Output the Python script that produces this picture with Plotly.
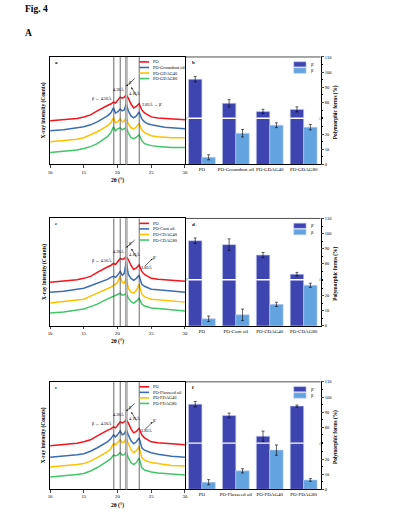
import plotly.graph_objects as go

W, H = 394, 527
FONT = "Liberation Serif"

# ---------------- data ----------------
TWO_THETA = [10, 12, 14, 15, 16, 17, 18, 18.5, 19, 19.4, 19.7, 20.0, 20.4, 20.7, 21.0,
             21.3, 21.6, 22.0, 22.4, 22.8, 23.2, 23.6, 24.0, 24.5, 25, 26, 27, 28, 30]

PO = [44, 45, 46.5, 48, 50, 54, 58, 59.5, 61, 63, 62, 65, 68, 67, 68,
      70, 67, 61, 57, 58.5, 61.5, 55, 52, 50, 48, 47, 46.5, 46, 45]

GROUNDNUT = [34, 35, 37, 38, 40, 43, 47, 49, 52, 57, 52, 53, 56, 54, 55,
             61, 54, 49, 47, 49, 53, 46, 43, 41, 40, 38.5, 37.5, 37, 36]
GDAG40 = [23, 24, 25.5, 27, 30, 33, 37, 39, 42, 47, 42, 43, 46, 43, 44,
          47, 41, 37, 36, 38, 41, 35, 32, 30.5, 29, 28, 27.5, 27, 27]
GDAG80 = [12, 13, 14.5, 16, 18, 21, 26, 28, 32, 38, 34, 36, 37, 35, 36,
          37, 32, 27, 26, 27.5, 30, 24, 21, 20, 19, 18, 17.5, 17, 17]

CORN = [34, 35, 37, 38, 40.5, 43, 46, 47, 49, 50, 49, 51, 55, 51, 53,
        65, 52, 48, 46, 48, 51, 42, 40, 38.5, 37, 36.5, 36, 35, 34]
CDAG40 = [23, 24.5, 26, 27, 30, 33, 36, 37, 39, 41, 42, 44, 50, 44, 43,
          48, 38, 34, 33, 36, 42, 32, 29.5, 28, 27, 26.5, 26, 25, 24]
CDAG80 = [13, 14, 16, 17, 19.5, 22, 25.5, 27, 29, 30, 30.5, 31.5, 33, 31, 31.5,
          33, 28, 24.5, 23, 25, 28, 22, 20, 19, 18, 17.5, 17, 16, 15]

FLAXSEED = [32.5, 33.5, 35, 36, 38.5, 42, 46, 48, 51, 55, 53, 55, 59, 55, 56,
            60, 55, 49, 46, 48, 52, 42, 39.5, 38, 37, 35.5, 34.5, 33.5, 32.5]
FDAG40 = [22.5, 23.5, 25, 26, 28.5, 32, 36, 38, 41, 46, 45, 47, 50, 47, 48,
          51, 46, 40, 37, 39, 43, 32, 29.5, 28, 27, 26, 25, 24, 23.5]
FDAG80 = [12.5, 13.5, 15, 16, 18.5, 22, 26, 28.5, 31, 34.5, 34, 34.5, 37, 34.5, 35,
          37.5, 32, 27, 25, 27, 31.5, 22, 19.5, 18.5, 17.5, 16.5, 16, 15, 14.5]

REF_LINES = [19.45, 20.4, 23.22]
REF_BAND = [21.18, 21.44]

XRD_NAMES = [
    ["PO", "PO-Groundnut oil", "PO-GDAG40", "PO-GDAG80"],
    ["PO", "PO-Corn oil", "PO-CDAG40", "PO-CDAG80"],
    ["PO", "PO-Flaxseed oil", "PO-FDAG40", "PO-FDAG80"],
]
XRD_SERIES = [
    [PO, GROUNDNUT, GDAG40, GDAG80],
    [PO, CORN, CDAG40, CDAG80],
    [PO, FLAXSEED, FDAG40, FDAG80],
]

CATS_B = ["PO", "PO-Groundnut oil", "PO-GDAG40", "PO-GDAG80"]
BP_B = [95.3, 79.4, 74.1, 75.4]
BP_B_ERR = [1.8, 2.4, 1.4, 1.7]
B_B = [4.7, 20.6, 25.9, 24.6]
B_B_ERR = [1.7, 2.5, 1.6, 1.8]

CATS_D = ["PO", "PO-Corn oil", "PO-CDAG40", "PO-CDAG80"]
BP_D = [95.3, 92.7, 85.8, 73.2]
BP_D_ERR = [1.8, 3.8, 1.7, 1.2]
B_D = [4.7, 7.3, 14.2, 26.8]
B_D_ERR = [1.8, 3.8, 1.4, 1.4]

CATS_F = ["PO", "PO-Flaxseed oil", "PO-FDAG40", "PO-FDAG80"]
BP_F = [95.3, 87.8, 74.1, 94.0]
BP_F_ERR = [1.8, 1.6, 3.4, 0.7]
B_F = [4.7, 12.2, 25.9, 6.2]
B_F_ERR = [1.7, 1.4, 3.4, 0.9]

BAR_DATA = [
    (CATS_B, BP_B, BP_B_ERR, B_B, B_B_ERR),
    (CATS_D, BP_D, BP_D_ERR, B_D, B_D_ERR),
    (CATS_F, BP_F, BP_F_ERR, B_F, B_F_ERR),
]
FORM_NAMES = ["β'", "β"]
PANEL_LETTERS = [("a", "b"), ("c", "d"), ("e", "f")]

# ---------------- style / layout ----------------
XRD_COLORS = ["#f5141e", "#3b6db4", "#ffc000", "#41c768"]
BP_COLOR = "#3e44b0"
B_COLOR = "#63a4e0"
BAR_EDGE = "#c5ccf0"

ROW_TOP = [55.5, 218.5, 383.5]
ROW_H = 108.5
XRD_L, XRD_R, BAR_R = 48.7, 185.3, 322.7
GAP = 1.4
U = (ROW_H - GAP) / 70.0


def fx(px):
    return px / W


def fy(py):
    return 1 - py / H


def ref(prefix, n):
    return prefix + (str(n) if n > 1 else "")


def key(prefix, n):
    return prefix + "axis" + (str(n) if n > 1 else "")


fig = go.Figure()
layout = {}
shapes = []
annotations = []


def text(t, px, py, size=5, bold=False, xanchor="center", angle=0):
    if bold:
        t = "<b>" + t + "</b>"
    annotations.append(dict(text=t, x=fx(px), y=fy(py), xref="paper", yref="paper",
                            showarrow=False, xanchor=xanchor, yanchor="middle",
                            textangle=angle, font=dict(family=FONT, size=size, color="black")))


def arrow(px, py, ax, ay, t=""):
    annotations.append(dict(text=t, x=fx(px), y=fy(py), xref="paper", yref="paper",
                            showarrow=True, ax=ax, ay=ay, arrowhead=2, arrowsize=0.6,
                            arrowwidth=0.6, arrowcolor="black", standoff=0,
                            font=dict(family=FONT, size=4.3, color="black")))


axis_font = dict(family=FONT, size=4.8, color="black")

for r in range(3):
    top = ROW_TOP[r]
    bot = top + ROW_H
    xn_x, xn_b = 2 * r + 1, 2 * r + 2
    yn_x, yn_lo, yn_up = 3 * r + 1, 3 * r + 2, 3 * r + 3

    # XRD axes
    layout[key("x", xn_x)] = dict(domain=[fx(XRD_L), fx(XRD_R)], range=[10, 30],
                                  tickvals=[10, 15, 20, 25, 30], ticks="outside", ticklen=2.5,
                                  tickwidth=0.6, showline=True, mirror=True, linecolor="black",
                                  linewidth=0.7, showgrid=False, zeroline=False, tickangle=0,
                                  tickfont=axis_font, anchor=ref("y", yn_x))
    layout[key("y", yn_x)] = dict(domain=[fy(bot), fy(top)], range=[0, ROW_H],
                                  showticklabels=False, ticks="", showline=True, mirror=True,
                                  linecolor="black", linewidth=0.7, showgrid=False,
                                  zeroline=False, anchor=ref("x", xn_x))
    for i in range(4):
        fig.add_trace(go.Scatter(x=TWO_THETA, y=XRD_SERIES[r][i], mode="lines",
                                 name=XRD_NAMES[r][i], showlegend=False,
                                 line=dict(color=XRD_COLORS[i], width=1.5),
                                 xaxis=ref("x", xn_x), yaxis=ref("y", yn_x)))
    for v in REF_LINES:
        shapes.append(dict(type="line", xref=ref("x", xn_x), yref=ref("y", yn_x) + " domain",
                           x0=v, x1=v, y0=0, y1=1, line=dict(color="#444", width=0.8)))
    shapes.append(dict(type="rect", xref=ref("x", xn_x), yref=ref("y", yn_x) + " domain",
                       x0=REF_BAND[0], x1=REF_BAND[1], y0=0, y1=1,
                       fillcolor="#c8c8c8", line=dict(color="#666", width=0.5)))

    # XRD manual legend
    for i in range(4):
        yy = top + 5 + 5.6 * i
        shapes.append(dict(type="line", xref="paper", yref="paper", x0=fx(139), x1=fx(149),
                           y0=fy(yy), y1=fy(yy), line=dict(color=XRD_COLORS[i], width=1.6)))
        text(XRD_NAMES[r][i], 151, yy, size=4.4, xanchor="left")

    # XRD annotations
    text("β ← 4.56Å", 101, top + 42, size=4.3)
    text("4.36Å", 119, top + 33.3, size=4.3)
    text("β'", 130, top + 25.7, size=4.5)
    arrow(125.8, top + 29.5, 10, -9)
    text("4.16Å", 135, top + 36.6, size=4.3)
    arrow(131, top + 30.5, 6, 10)
    if r == 0:
        text("3.83Å → β'", 151.5, top + 48.2, size=4.3)
    else:
        text("β'", 154.5, top + 39, size=4.5)
        arrow(152.5, top + 40.5, -9, 9)
        text("3.83Å", 146.5, top + 49.3, size=4.3)

    # titles
    text("X-ray intensity (Counts)", 42.3, top + ROW_H / 2, size=5.4, bold=True, angle=-90)
    text("2θ (°)", 117, bot + 16, size=5.6, bold=True)
    text("Polymorphic forms (%)", 337.8, top + ROW_H / 2 + 2, size=5.3, bold=True, angle=-90)
    text(PANEL_LETTERS[r][0], 55.5, top + 5.5, size=5, bold=True)
    text(PANEL_LETTERS[r][1], 193.5, top + 6, size=5, bold=True)

    # bar axes
    cats, bp, bp_err, b, b_err = BAR_DATA[r]
    lo_top = bot - 30 * U
    up_bot = top + 40 * U
    layout[key("x", xn_b)] = dict(domain=[fx(XRD_R), fx(BAR_R)], type="category",
                                  showline=True, linecolor="black", linewidth=0.7, ticks="",
                                  showgrid=False, zeroline=False, tickangle=0,
                                  tickfont=dict(family=FONT, size=5.0, color="black"),
                                  anchor=ref("y", yn_lo))
    ystyle = dict(side="right", anchor=ref("x", xn_b), ticks="outside", ticklen=2.5,
                  tickwidth=0.6, showline=True, linecolor="black", linewidth=0.7,
                  showgrid=False, zeroline=False, tickfont=dict(family=FONT, size=4.5, color="black"),
                  minor=dict(dtick=5, ticks="outside", ticklen=1.4, tickwidth=0.5, tickcolor="black"))
    layout[key("y", yn_lo)] = dict(domain=[fy(bot), fy(lo_top)], range=[0, 30],
                                   tickvals=[0, 10, 20], **ystyle)
    layout[key("y", yn_up)] = dict(domain=[fy(up_bot), fy(top)], range=[70, 110],
                                   tickvals=[80, 90, 100, 110], **ystyle)
    err_style = dict(type="data", color="black", thickness=0.6, width=1.5)
    for yn, show_bp_err, show_b_err in ((yn_lo, False, True), (yn_up, True, False)):
        fig.add_trace(go.Bar(x=cats, y=bp, name=FORM_NAMES[0], offsetgroup="bp",
                             marker=dict(color=BP_COLOR, line=dict(color=BAR_EDGE, width=0.6)),
                             error_y=dict(array=bp_err, visible=show_bp_err, **err_style),
                             showlegend=False, xaxis=ref("x", xn_b), yaxis=ref("y", yn)))
        fig.add_trace(go.Bar(x=cats, y=b, name=FORM_NAMES[1], offsetgroup="b",
                             marker=dict(color=B_COLOR, line=dict(color=BAR_EDGE, width=0.6)),
                             error_y=dict(array=b_err, visible=show_b_err, **err_style),
                             showlegend=False, xaxis=ref("x", xn_b), yaxis=ref("y", yn)))
    # top border of bar panel
    shapes.append(dict(type="line", xref="paper", yref="paper", x0=fx(XRD_R), x1=fx(BAR_R),
                       y0=fy(top), y1=fy(top), line=dict(color="black", width=0.7)))
    # break marks
    brk = (lo_top + up_bot) / 2
    text("//", 187.2, brk, size=5)
    text("//", BAR_R, brk, size=5)

    # bar manual legend
    shapes.append(dict(type="rect", xref="paper", yref="paper", x0=fx(295.5), x1=fx(308),
                       y0=fy(top + 10), y1=fy(top + 4.8), fillcolor=BP_COLOR,
                       line=dict(color=BAR_EDGE, width=0.6)))
    shapes.append(dict(type="rect", xref="paper", yref="paper", x0=fx(295.5), x1=fx(308),
                       y0=fy(top + 16.5), y1=fy(top + 11), fillcolor=B_COLOR,
                       line=dict(color=BAR_EDGE, width=0.6)))
    text(FORM_NAMES[0], 310.5, top + 7.4, size=4.5, xanchor="left")
    text(FORM_NAMES[1], 310.5, top + 13.8, size=4.5, xanchor="left")

text("Fig. 4", 21, 7, size=9.5, bold=True, xanchor="left")
text("A", 21.5, 31, size=9.5, bold=True, xanchor="left")

fig.update_layout(
    width=W, height=H, margin=dict(l=0, r=0, t=0, b=0),
    paper_bgcolor="white", plot_bgcolor="white",
    barmode="group", bargap=0.21, bargroupgap=0,
    showlegend=False, shapes=shapes, annotations=annotations,
    font=dict(family=FONT, color="black"),
    **layout,
)
# remove the browser's default 8px page margin so the figure fills the window exactly
fig.write_html("out.html", config={"displayModeBar": False},
               post_script="document.body.style.margin='0';")
